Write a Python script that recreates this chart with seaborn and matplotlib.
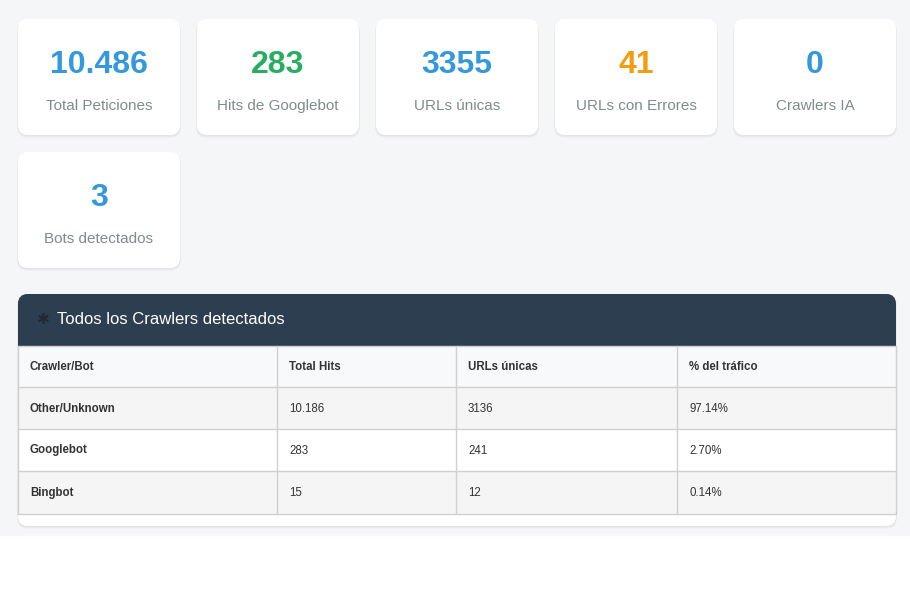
import matplotlib
matplotlib.use("Agg")
import matplotlib.pyplot as plt
from matplotlib.patches import FancyBboxPatch, Rectangle
import seaborn as sns

# KPI cards
card_values = ["10.486", "283", "3355", "41", "0", "3"]
card_labels = ["Total Peticiones", "Hits de Googlebot", "URLs únicas",
               "URLs con Errores", "Crawlers IA", "Bots detectados"]
card_colors = ["#3498db", "#27ae60", "#3498db", "#f39c12", "#3498db", "#3498db"]

# crawler table
panel_title = "Todos los Crawlers detectados"
table_columns = ["Crawler/Bot", "Total Hits", "URLs únicas", "% del tráfico"]
crawlers = ["Other/Unknown", "Googlebot", "Bingbot"]
total_hits = ["10.186", "283", "15"]
unique_urls = ["3136", "241", "12"]
traffic_pct = ["97.14%", "2.70%", "0.14%"]

sns.set_theme(style="white")
plt.rcParams["font.family"] = ["Liberation Sans", "DejaVu Sans"]

W, H = 910, 600
fig = plt.figure(figsize=(W / 100, H / 100), dpi=100)
ax = fig.add_axes([0, 0, 1, 1])
ax.set_xlim(0, W)
ax.set_ylim(H, 0)
ax.axis("off")

# page background
ax.add_patch(Rectangle((0, 0), W, 535, color="#f5f6f8", zorder=0))


def rounded(x, y, w, h, r, fc, z=1, **kw):
    p = FancyBboxPatch((x + r, y + r), w - 2 * r, h - 2 * r,
                       boxstyle=f"round,pad={r}", fc=fc, ec="none", zorder=z, **kw)
    ax.add_patch(p)
    return p


def shadow(x, y, w, h):
    for k in range(3):
        rounded(x - 1 + k * 0.3, y + 1 + k, w + 2 - k * 0.6, h, 10,
                "#000000", z=1, alpha=0.025)


# cards
cw, ch, gap = 162, 116, 17
for i, (val, lab, col) in enumerate(zip(card_values, card_labels, card_colors)):
    x0 = 18 + (i % 5) * (cw + gap)
    y0 = 19 + (i // 5) * (ch + gap)
    shadow(x0, y0, cw, ch)
    rounded(x0, y0, cw, ch, 10, "white", z=2)
    ax.text(x0 + cw / 2, y0 + 46, val, ha="center", va="center",
            fontsize=23, fontweight="bold", color=col, zorder=3)
    ax.text(x0 + cw / 2, y0 + 87, lab, ha="center", va="center",
            fontsize=11, color="#7f8c8d", zorder=3)

# panel
px, py, pw, ph = 18, 294, 878, 232
shadow(px, py, pw, ph)
panel = rounded(px, py, pw, ph, 10, "white", z=2)
# dark header, clipped to the rounded panel
hdr = Rectangle((px, py), pw, 52, color="#2c3e50", zorder=3)
ax.add_patch(hdr)
hdr.set_clip_path(panel)
ax.text(43, py + 26, "✱", ha="center", va="center", fontsize=11,
        color="#1f2a36", zorder=4, family="DejaVu Sans")
ax.text(57, py + 26, panel_title, ha="left", va="center",
        fontsize=12, color="white", zorder=4)

# table
col_x = [18, 277, 456, 677, 896]
row_y = [346, 387, 429, 471, 514]
row_bg = ["#f8f9fa", "#f5f5f5", "#ffffff", "#f5f5f5"]
rows = [table_columns] + [list(r) for r in zip(crawlers, total_hits, unique_urls, traffic_pct)]
for r, cells in enumerate(rows):
    y0, y1 = row_y[r], row_y[r + 1]
    ax.add_patch(Rectangle((col_x[0], y0), col_x[-1] - col_x[0], y1 - y0,
                           fc=row_bg[r], ec="none", zorder=3))
    for c, txt in enumerate(cells):
        bold = r == 0 or c == 0
        ax.text(col_x[c] + 12, (y0 + y1) / 2 + 0.5, txt, ha="left", va="center",
                fontsize=8.3, fontweight="bold" if bold else "normal",
                color="#333333", zorder=5)
line_c = "#d0d0d0"
for y in row_y:
    ax.plot([col_x[0], col_x[-1]], [y, y], color=line_c, lw=1, zorder=4)
for x in col_x:
    ax.plot([x, x], [row_y[0], row_y[-1]], color=line_c, lw=1, zorder=4)

fig.savefig("out.png", dpi=100, facecolor="white")
